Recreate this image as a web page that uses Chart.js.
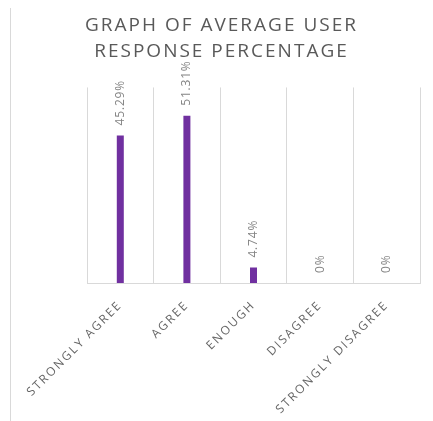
<!DOCTYPE html>
<html>
<head>
<meta charset="utf-8">
<script src="https://cdn.jsdelivr.net/npm/chart.js@4"></script>
<style>
  html, body { margin: 0; padding: 0; background: #fff; }
  #wrap { position: relative; width: 433px; height: 421px; }
  #edge { position: absolute; left: 10px; top: 8px; bottom: 0; width: 1px; background: #d9d9d9; }
</style>
</head>
<body>
<div id="wrap">
  <div id="edge"></div>
  <canvas id="responseChart" width="433" height="421"></canvas>
</div>
<script>
const categories = ['STRONGLY AGREE', 'AGREE', 'ENOUGH', 'DISAGREE', 'STRONGLY DISAGREE'];
const responsePercent = [45.29, 51.31, 4.74, 0, 0];
const valueLabels = ['45.29%', '51.31%', '4.74%', '0%', '0%'];

// canvas letter spacing gets reset on resize, so set it before layout and draw
const spacingPlugin = {
  id: 'spacing',
  beforeLayout(chart) { chart.ctx.letterSpacing = '2px'; },
  beforeDraw(chart) { chart.ctx.letterSpacing = '2px'; }
};

const valueLabelPlugin = {
  id: 'valueLabels',
  afterDatasetsDraw(chart) {
    const ctx = chart.ctx;
    const meta = chart.getDatasetMeta(0);
    ctx.save();
    ctx.letterSpacing = '0.8px';
    ctx.font = '12px "Open Sans"';
    ctx.fillStyle = '#858585';
    ctx.textAlign = 'left';
    ctx.textBaseline = 'middle';
    meta.data.forEach((bar, i) => {
      ctx.save();
      ctx.translate(bar.x, bar.y - 10);
      ctx.rotate(-Math.PI / 2);
      ctx.fillText(valueLabels[i], 0, 0);
      ctx.restore();
    });
    ctx.restore();
  }
};

const ctx = document.getElementById('responseChart').getContext('2d');
new Chart(ctx, {
  type: 'bar',
  data: {
    labels: categories,
    datasets: [{
      data: responsePercent,
      backgroundColor: '#7030A0',
      barThickness: 7,
      inflateAmount: 0
    }]
  },
  options: {
    responsive: false,
    animation: false,
    layout: { padding: { left: 10, right: 0, top: 0, bottom: 0 } },
    plugins: {
      legend: { display: false },
      tooltip: { enabled: false },
      title: {
        display: true,
        text: ['GRAPH OF AVERAGE USER', 'RESPONSE PERCENTAGE'],
        color: '#595959',
        font: { family: '"Open Sans"', size: 19, weight: 'normal', lineHeight: 1.38 },
        padding: { top: 12, bottom: 23 }
      }
    },
    scales: {
      x: {
        grid: { color: '#d9d9d9', drawTicks: false, offset: true },
        border: { color: '#d9d9d9' },
        ticks: {
          color: '#666666',
          font: { family: '"Open Sans"', size: 12 },
          minRotation: 45,
          maxRotation: 45,
          padding: 15
        },
        afterFit(scale) {
          scale.height = 138;
          scale.paddingLeft = 0;
          scale.paddingRight = 13;
        }
      },
      y: {
        min: 0,
        max: 60,
        grid: { display: false },
        border: { display: false },
        ticks: { display: false },
        afterFit(scale) { scale.width = 77; }
      }
    }
  },
  plugins: [spacingPlugin, valueLabelPlugin]
});
</script>
</body>
</html>
